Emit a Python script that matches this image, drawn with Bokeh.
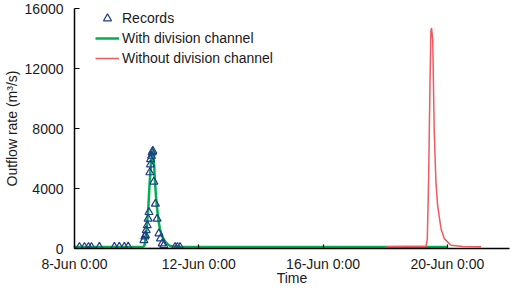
import pandas as pd
from bokeh.plotting import figure
from bokeh.models import Range1d, FixedTicker, DatetimeTickFormatter, Legend, LegendItem
from bokeh.embed import file_html
from bokeh.resources import INLINE

# ---- data (hours after 8-Jun 0:00) ----
base_time = "2020-06-08 00:00"

records_hours = [3.8, 7.7, 10.8, 13.1, 19.2, 30.8, 34.6, 38.5, 41.5,
                 53.6, 54.3, 54.8, 55.4, 56.2, 56.9, 57.5, 58.2, 58.7, 58.8,
                 59.5, 60.0, 60.5, 61.3, 62.5, 63.8, 65.2, 66.4, 67.7, 69.0,
                 77.7, 79.5, 81.5]
records_flow = [90, 90, 90, 90, 100, 100, 110, 110, 120,
                550, 790, 880, 1210, 1540, 1980, 2420, 5070, 5600, 5950,
                6170, 6400, 6500, 4450, 2980, 1980, 1000, 660, 330, 220,
                90, 90, 90]

with_hours = [0, 48, 53, 54, 55, 56, 57, 58, 59, 60, 60.5, 61, 61.5, 62, 63,
              64, 65, 66, 67, 68, 69, 70, 72, 74, 78, 100, 200, 288]
with_flow = [100, 100, 120, 180, 700, 1600, 2700, 4300, 5600, 6400, 6600, 6300,
             5600, 4700, 3400, 2500, 1800, 1300, 1000, 780, 600, 470, 280, 170,
             120, 100, 100, 100]

without_hours = [0, 238, 242, 271.5, 272.5, 273.5, 274.5, 275.3, 275.8, 276.7,
                 277.9, 279.2, 280.5, 283.1, 285.6, 290.8, 300, 314]
without_flow = [0, 0, 120, 150, 600, 4500, 10500, 14500, 14700, 13900,
                7700, 4400, 2860, 1320, 660, 220, 140, 120]

tick_days = [0, 4, 8, 12]
y_ticks = [0, 4000, 8000, 12000, 16000]

base = pd.Timestamp(base_time)
def to_dt(hours):
    return [base + pd.Timedelta(hours=h) for h in hours]

x_start = base
x_end = base + pd.Timedelta(days=14)

p = figure(width=512, height=288, output_backend="svg", toolbar_location=None,
           x_axis_type="datetime",
           x_range=Range1d(x_start, x_end), y_range=Range1d(0, 16000),
           min_border_left=72, min_border_right=3, min_border_top=8,
           min_border_bottom=38)

p.grid.visible = False
p.outline_line_color = None
p.background_fill_color = "white"
p.border_fill_color = "white"

r_with = p.line(to_dt(with_hours), with_flow, line_color="#00B050", line_width=2.5)
r_without = p.line(to_dt(without_hours), without_flow, line_color="#EE5A5E", line_width=1.5)
r_rec = p.scatter(to_dt(records_hours), records_flow, marker="triangle", size=8,
                  fill_color=None, line_color="#1F3C88", line_width=1.2)

font = "Liberation Sans"
txt = "#1a1a1a"

# x axis
xa = p.xaxis[0]
xa.ticker = FixedTicker(ticks=[(base + pd.Timedelta(days=d)).timestamp() * 1000 for d in tick_days])
fmt = "%-d-%b %-H:%M"
xa.formatter = DatetimeTickFormatter(milliseconds=fmt, seconds=fmt, minsec=fmt, minutes=fmt,
                                     hourmin=fmt, hours=fmt, days=fmt, months=fmt, years=fmt)
xa.axis_label = "Time"

# y axis
ya = p.yaxis[0]
ya.ticker = FixedTicker(ticks=y_ticks)
ya.axis_label = "Outflow rate (m³/s)"

for ax in (xa, ya):
    ax.axis_line_color = "black"
    ax.axis_line_width = 1.5
    ax.major_tick_line_color = "black"
    ax.major_tick_line_width = 1.2
    ax.major_tick_in = 4
    ax.major_tick_out = 0
    ax.minor_tick_line_color = None
    ax.major_label_text_font = font
    ax.major_label_text_font_size = "14px"
    ax.major_label_text_color = txt
    ax.axis_label_text_font = font
    ax.axis_label_text_font_size = "14px"
    ax.axis_label_text_font_style = "normal"
    ax.axis_label_text_color = txt

ya.major_tick_in = 5
ya.major_label_standoff = 11
ya.axis_label_standoff = 2
xa.major_label_standoff = 7
xa.axis_label_standoff = -5

legend = Legend(items=[
    LegendItem(label="Records", renderers=[r_rec]),
    LegendItem(label="With division channel", renderers=[r_with]),
    LegendItem(label="Without division channel", renderers=[r_without]),
], location=(21, 180))
legend.background_fill_alpha = 0
legend.border_line_color = None
legend.padding = 0
legend.margin = 0
legend.spacing = 0
legend.glyph_width = 24
legend.glyph_height = 20
legend.label_height = 20
legend.label_standoff = 3
legend.label_text_font = font
legend.label_text_font_size = "14px"
legend.label_text_color = txt
p.add_layout(legend, "center")

open("out.html", "w").write(file_html(p, INLINE))
